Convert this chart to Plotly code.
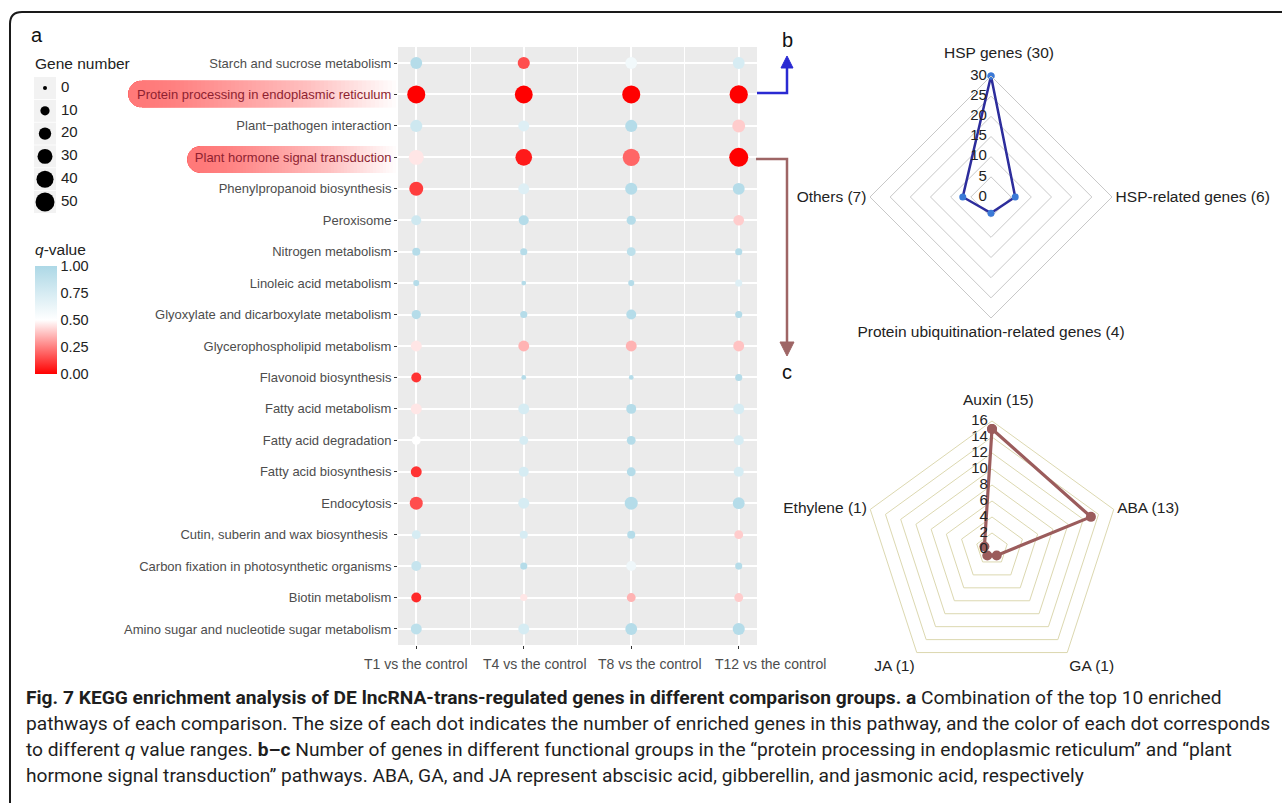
import math
import plotly.graph_objects as go

# ---------------- data ----------------
pathways = [
    "Starch and sucrose metabolism",
    "Protein processing in endoplasmic reticulum",
    "Plant\u2212pathogen interaction",
    "Plant hormone signal transduction",
    "Phenylpropanoid biosynthesis",
    "Peroxisome",
    "Nitrogen metabolism",
    "Linoleic acid metabolism",
    "Glyoxylate and dicarboxylate metabolism",
    "Glycerophospholipid metabolism",
    "Flavonoid biosynthesis",
    "Fatty acid metabolism",
    "Fatty acid degradation",
    "Fatty acid biosynthesis",
    "Endocytosis",
    "Cutin, suberin and wax biosynthesis ",
    "Carbon fixation in photosynthetic organisms",
    "Biotin metabolism",
    "Amino sugar and nucleotide sugar metabolism",
]
highlighted = ["Protein processing in endoplasmic reticulum",
               "Plant hormone signal transduction"]

comparisons = ["T1 vs the control", "T4 vs the control",
               "T8 vs the control", "T12 vs the control"]

genes_t1 = [18, 45, 19, 30, 26, 12, 7, 3, 10, 15, 12, 15, 9, 15, 22, 9, 12, 12, 15]
genes_t4 = [19, 44, 15, 38, 15, 12, 5, 1, 5, 15, 1, 15, 9, 12, 15, 7, 5, 5, 15]
genes_t8 = [18, 45, 19, 40, 19, 10, 9, 3, 12, 15, 1, 12, 9, 9, 22, 7, 12, 9, 18]
genes_t12 = [18, 46, 22, 50, 18, 14, 5, 5, 5, 15, 5, 15, 12, 12, 18, 9, 5, 9, 19]

q_t1 = [0.95, 0.0, 0.8, 0.45, 0.12, 0.8, 0.95, 0.95, 0.95, 0.45, 0.1, 0.45, 0.5, 0.1, 0.15, 0.75, 0.85, 0.08, 0.9]
q_t4 = [0.15, 0.0, 0.7, 0.05, 0.7, 0.95, 0.95, 0.95, 0.95, 0.35, 0.95, 0.75, 0.75, 0.75, 0.75, 0.75, 0.95, 0.45, 0.75]
q_t8 = [0.58, 0.0, 0.95, 0.2, 0.95, 0.95, 0.9, 0.95, 0.95, 0.35, 0.95, 0.95, 0.95, 0.95, 0.95, 0.95, 0.6, 0.35, 0.95]
q_t12 = [0.75, 0.0, 0.4, 0.0, 0.95, 0.4, 0.95, 0.7, 0.95, 0.38, 0.95, 0.75, 0.75, 0.75, 0.95, 0.4, 0.95, 0.4, 0.95]

size_breaks = [0, 10, 20, 30, 40, 50]
q_breaks = [0.0, 0.25, 0.5, 0.75, 1.0]

hsp_groups = ["HSP genes", "HSP-related genes",
              "Protein ubiquitination-related genes", "Others"]
hsp_counts = [30, 6, 4, 7]
hsp_ticks = [0, 5, 10, 15, 20, 25, 30]

hormones = ["Auxin", "ABA", "GA", "JA", "Ethylene"]
hormone_counts = [15, 13, 1, 1, 1]
hormone_ticks = [0, 2, 4, 6, 8, 10, 12, 14, 16]

caption_lines = [
    "<b>Fig. 7 KEGG enrichment analysis of DE lncRNA-trans-regulated genes in different comparison groups. a</b> Combination of the top 10 enriched",
    "pathways of each comparison. The size of each dot indicates the number of enriched genes in this pathway, and the color of each dot corresponds",
    "to different <i>q</i> value ranges. <b>b\u2013c</b> Number of genes in different functional groups in the \u201cprotein processing in endoplasmic reticulum\u201d and \u201cplant",
    "hormone signal transduction\u201d pathways. ABA, GA, and JA represent abscisic acid, gibberellin, and jasmonic acid, respectively",
]

# ---------------- helpers ----------------
W, H = 1282, 803
FONT = "Liberation Sans, Arial, sans-serif"
CAPTION_FONT = "Roboto, Liberation Sans, sans-serif"
EPS = 1e-6  # keeps the centre label inside the radial range
NBSP = "\u00a0"


def px(x):
    return x / W


def py(y):
    return 1 - y / H


def dot_diameter(n):
    # area-proportional dot size (px diameter)
    return math.sqrt(16 + 6.9 * n)


fig = go.Figure()

# ---------------- panel a: dot plot ----------------
gene_cols = [genes_t1, genes_t4, genes_t8, genes_t12]
q_cols = [q_t1, q_t4, q_t8, q_t12]
xs, ys, sizes, colors = [], [], [], []
for ci, (g, q) in enumerate(zip(gene_cols, q_cols)):
    for ri in range(len(pathways)):
        xs.append(ci)
        ys.append(ri)
        sizes.append(dot_diameter(g[ri]))
        colors.append(q[ri])

fig.add_trace(go.Scatter(
    x=xs, y=ys, mode="markers",
    marker=dict(size=sizes, color=colors, coloraxis="coloraxis",
                line=dict(width=0), opacity=1),
    xaxis="x", yaxis="y", showlegend=False, hoverinfo="skip",
))

ticktext_y = []
for p in pathways:
    if p in highlighted:
        ticktext_y.append('<span style="color:#8e1f30">%s</span>' % p)
    else:
        ticktext_y.append(p)

# gene number legend (own small axes)
key_y = [12 + 22.8 * i for i in range(len(size_breaks))]
fig.add_trace(go.Scatter(
    x=[15] * len(size_breaks), y=key_y, mode="markers",
    marker=dict(symbol="square", size=22, color="#f2f2f2", line=dict(width=0)),
    xaxis="x2", yaxis="y2", showlegend=False, hoverinfo="skip",
))
fig.add_trace(go.Scatter(
    x=[15] * len(size_breaks), y=key_y, mode="markers",
    marker=dict(size=[dot_diameter(b) for b in size_breaks], color="#000000",
                opacity=1, line=dict(width=0)),
    xaxis="x2", yaxis="y2", showlegend=False, hoverinfo="skip",
))
fig.add_trace(go.Scatter(
    x=[31] * len(size_breaks), y=key_y, mode="text",
    text=[str(b) for b in size_breaks], textposition="middle right",
    textfont=dict(family=FONT, size=15, color="#222222"),
    xaxis="x2", yaxis="y2", showlegend=False, hoverinfo="skip",
))

# ---------------- panel b: radar ----------------
labels_b = ["%s (%d)" % (n, v) for n, v in zip(hsp_groups, hsp_counts)]
fig.add_trace(go.Scatterpolar(
    r=hsp_counts + hsp_counts[:1], theta=labels_b + labels_b[:1],
    mode="lines+markers", subplot="polar",
    line=dict(color="#2d2d9c", width=2.5),
    marker=dict(color="#3b79d6", size=7),
    showlegend=False, hoverinfo="skip",
))
# value labels along the vertical axis
fig.add_trace(go.Scatterpolar(
    r=[max(t, EPS) for t in hsp_ticks], theta=[labels_b[0]] * len(hsp_ticks),
    mode="text", text=[str(t) + NBSP for t in hsp_ticks],
    textposition="middle left",
    textfont=dict(family=FONT, size=15, color="#222222"),
    subplot="polar", cliponaxis=False, showlegend=False, hoverinfo="skip",
))

# ---------------- panel c: radar ----------------
labels_c = ["%s (%d)" % (n, v) for n, v in zip(hormones, hormone_counts)]
fig.add_trace(go.Scatterpolar(
    r=hormone_counts + hormone_counts[:1], theta=labels_c + labels_c[:1],
    mode="lines+markers", subplot="polar2",
    line=dict(color="#9b5c5c", width=3.2),
    marker=dict(color="#9b5c5c", size=10),
    showlegend=False, hoverinfo="skip",
))
fig.add_trace(go.Scatterpolar(
    r=[max(t, EPS) for t in hormone_ticks],
    theta=[labels_c[0]] * len(hormone_ticks),
    mode="text", text=[str(t) + NBSP for t in hormone_ticks],
    textposition="middle left",
    textfont=dict(family=FONT, size=15, color="#222222"),
    subplot="polar2", cliponaxis=False, showlegend=False, hoverinfo="skip",
))

# ---------------- shapes ----------------
shapes = []

# grey panel behind the gridlines
shapes.append(dict(type="rect", xref="x domain", yref="y domain",
                   x0=0, x1=1, y0=0, y1=1, fillcolor="#ebebeb",
                   line=dict(width=0), layer="below"))


def pill_path(left, right, cy, r, n_arc=16):
    pts = []
    cx = left + r
    for k in range(n_arc + 1):
        a = math.pi / 2 + math.pi * k / n_arc
        pts.append((cx + r * math.cos(a), cy - r * math.sin(a)))
    pts.append((right, cy + r))
    pts.append((right, cy - r))
    d = "M %.5f,%.5f " % (px(pts[0][0]), py(pts[0][1]))
    d += " ".join("L %.5f,%.5f" % (px(x), py(y)) for x, y in pts[1:])
    return d + " Z"


def gradient_pill(left, right, cy, r, alpha_max=0.62, steps=60):
    # stacked translucent pills of decreasing length give a left-to-right fade
    a = 1 - (1 - alpha_max) ** (1.0 / steps)
    out = []
    for i in range(1, steps + 1):
        xr = left + r + (right - left - r) * i / steps
        out.append(dict(type="path", xref="paper", yref="paper",
                        path=pill_path(left, xr, cy, r),
                        fillcolor="rgba(224,72,80,%.4f)" % a,
                        line=dict(width=0), layer="below"))
    return out


shapes += gradient_pill(128, 396, 94.0, 13.5)
shapes += gradient_pill(187, 396, 159.5, 13.5)

# frame
shapes.append(dict(type="path", xref="paper", yref="paper",
                   path="M %f,%f L %f,%f Q %f,%f %f,%f L %f,%f" % (
                       px(10), py(820), px(10), py(24), px(10), py(12),
                       px(22), py(12), px(1300), py(12)),
                   line=dict(color="#1a1a1a", width=2)))

# connector arrows
blue = "#2a2ad2"
shapes.append(dict(type="path", xref="paper", yref="paper",
                   path="M %f,%f L %f,%f L %f,%f" % (
                       px(757), py(93), px(787), py(93), px(787), py(66)),
                   line=dict(color=blue, width=2.5)))
shapes.append(dict(type="path", xref="paper", yref="paper",
                   path="M %f,%f L %f,%f L %f,%f Z" % (
                       px(787), py(56), px(781), py(68), px(793), py(68)),
                   fillcolor=blue, line=dict(color=blue, width=1)))
brown = "#9e6565"
shapes.append(dict(type="path", xref="paper", yref="paper",
                   path="M %f,%f L %f,%f L %f,%f" % (
                       px(756), py(159), px(787), py(159), px(787), py(344)),
                   line=dict(color=brown, width=2.5)))
shapes.append(dict(type="path", xref="paper", yref="paper",
                   path="M %f,%f L %f,%f L %f,%f Z" % (
                       px(787), py(356), px(780), py(342), px(794), py(342)),
                   fillcolor=brown, line=dict(color=brown, width=1)))

# ---------------- annotations ----------------
annotations = [
    dict(text="a", x=px(29), y=py(35), xref="paper", yref="paper",
         xanchor="left", yanchor="middle", showarrow=False,
         font=dict(family=FONT, size=20, color="#111111")),
    dict(text="b", x=px(780), y=py(40), xref="paper", yref="paper",
         xanchor="left", yanchor="middle", showarrow=False,
         font=dict(family=FONT, size=20, color="#111111")),
    dict(text="c", x=px(780), y=py(372), xref="paper", yref="paper",
         xanchor="left", yanchor="middle", showarrow=False,
         font=dict(family=FONT, size=20, color="#111111")),
    dict(text="Gene number", x=px(33), y=py(64), xref="paper", yref="paper",
         xanchor="left", yanchor="middle", showarrow=False,
         font=dict(family=FONT, size=15.5, color="#222222")),
    dict(text="<i>q</i>-value", x=px(33), y=py(249), xref="paper", yref="paper",
         xanchor="left", yanchor="middle", showarrow=False,
         font=dict(family=FONT, size=15.5, color="#222222")),
    # top category names of the two radar charts sit above the value labels
    dict(text=labels_b[0], x=px(999), y=py(52), xref="paper", yref="paper",
         xanchor="center", yanchor="middle", showarrow=False,
         font=dict(family=FONT, size=15.5, color="#222222")),
    dict(text=labels_c[0], x=px(998), y=py(399), xref="paper", yref="paper",
         xanchor="center", yanchor="middle", showarrow=False,
         font=dict(family=FONT, size=15.5, color="#222222")),
]

# comparison labels under the dot plot, nudged apart so they do not touch
label_shift = [0, 11, 19, 32]
for i, comp in enumerate(comparisons):
    annotations.append(dict(
        text=comp, x=i, xref="x", y=py(664), yref="paper",
        xanchor="center", yanchor="middle", xshift=label_shift[i],
        showarrow=False, font=dict(family=FONT, size=14, color="#4d4d4d")))

for i, line in enumerate(caption_lines):
    annotations.append(dict(
        text=line, x=px(24), y=py(697 + 26 * i), xref="paper", yref="paper",
        xanchor="left", yanchor="middle", showarrow=False,
        font=dict(family=CAPTION_FONT, size=19.2, color="#1e1e1e")))

ticktext_b = [""] + labels_b[1:]
ticktext_c = [""] + labels_c[1:]

# ---------------- layout ----------------
fig.update_layout(
    width=W, height=H,
    margin=dict(l=0, r=0, t=0, b=0, pad=0, autoexpand=False),
    paper_bgcolor="white", plot_bgcolor="white",
    font=dict(family=FONT, color="#4d4d4d"),
    shapes=shapes, annotations=annotations,
    xaxis=dict(
        domain=[px(398), px(757)], range=[-0.17, 3.17], anchor="y",
        tickmode="array", tickvals=list(range(len(comparisons))),
        showticklabels=False,
        showgrid=True, gridcolor="white", gridwidth=1.6, zeroline=False,
        ticks="outside", ticklen=3, tickcolor="#333333", tickwidth=1,
        minor=dict(tickvals=[0.5, 1.5, 2.5], showgrid=True,
                   gridcolor="white", gridwidth=0.8, ticks=""),
        showline=False, fixedrange=True, automargin=False,
    ),
    yaxis=dict(
        domain=[py(645), py(47)], range=[len(pathways) - 0.49, -0.51],
        anchor="x", tickmode="array", tickvals=list(range(len(pathways))),
        ticktext=ticktext_y, tickfont=dict(size=13, color="#4d4d4d"),
        showgrid=True, gridcolor="white", gridwidth=1.6, zeroline=False,
        ticks="outside", ticklen=3, tickcolor="#333333", tickwidth=1,
        showline=False, fixedrange=True, automargin=False,
    ),
    xaxis2=dict(domain=[px(30), px(100)], range=[0, 70], anchor="y2",
                visible=False, fixedrange=True, automargin=False),
    yaxis2=dict(domain=[py(215), py(76)], range=[139, 0], anchor="x2",
                visible=False, fixedrange=True, automargin=False),
    coloraxis=dict(
        cmin=0, cmax=1,
        colorscale=[[0, "#ff0000"], [0.5, "#ffffff"], [1, "#add8e6"]],
        colorbar=dict(
            x=px(35), xanchor="left", y=py(266), yanchor="top",
            lenmode="pixels", len=108, thicknessmode="pixels", thickness=22,
            outlinewidth=0, tickmode="array", tickvals=q_breaks,
            ticktext=["%.2f" % v for v in q_breaks], ticks="",
            tickfont=dict(family=FONT, size=14.5, color="#222222"),
            xpad=0, ypad=0,
        ),
    ),
    polar=dict(
        domain=dict(x=[px(870), px(1112)], y=[py(318), py(76)]),
        bgcolor="white", gridshape="linear",
        radialaxis=dict(range=[0, 30], tickvals=hsp_ticks[1:],
                        angle=90, showticklabels=False,
                        showline=False, ticks="", gridcolor="#c8c8c8",
                        gridwidth=1),
        angularaxis=dict(rotation=90, direction="clockwise", showgrid=False,
                         showline=True, linecolor="#c8c8c8", linewidth=1,
                         ticks="", tickmode="array", tickvals=labels_b,
                         ticktext=ticktext_b,
                         tickfont=dict(family=FONT, size=15.5, color="#222222")),
    ),
    polar2=dict(
        domain=dict(x=[px(864), px(1120)], y=[py(677), py(421)]),
        bgcolor="white", gridshape="linear",
        radialaxis=dict(range=[0, 16], tickvals=hormone_ticks[1:],
                        angle=90, showticklabels=False,
                        showline=False, ticks="", gridcolor="#dcd8b0",
                        gridwidth=1),
        angularaxis=dict(rotation=90, direction="clockwise", showgrid=False,
                         showline=True, linecolor="#dcd8b0", linewidth=1,
                         ticks="", tickmode="array", tickvals=labels_c,
                         ticktext=ticktext_c,
                         tickfont=dict(family=FONT, size=15.5, color="#222222")),
    ),
)

fig.write_html("out.html")
